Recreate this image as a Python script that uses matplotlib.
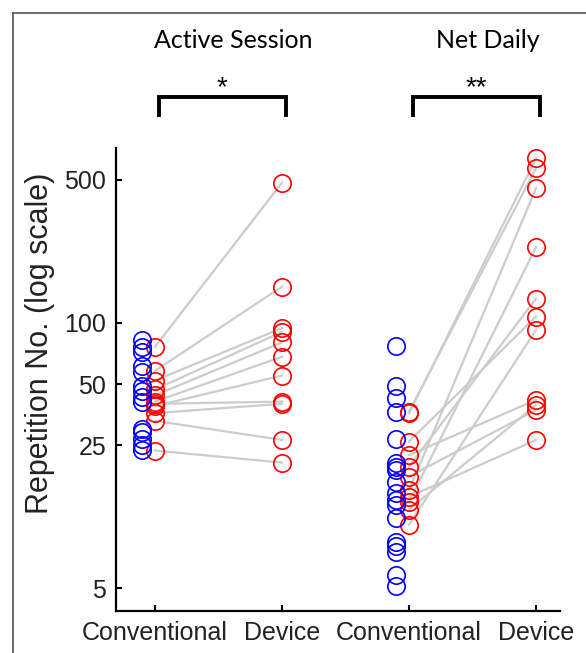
import numpy as np
import matplotlib.pyplot as plt
from matplotlib.lines import Line2D
import matplotlib.transforms as mtransforms

# values (repetitions, log scale)
active_conv_all = [82, 76, 72, 61, 57, 49, 46, 43, 41, 30, 29, 27, 25, 23.7]
active_conv_paired = [76, 58, 52, 47, 44, 41, 39, 40, 36, 33, 23.6]
active_device = [485, 150, 94, 90, 80, 68, 55, 41, 40, 26.6, 20.6]

daily_conv_all = [77, 49, 42.5, 36.6, 27, 20.4, 19.7, 18.9, 16.6, 14.6,
                  13.5, 12.8, 11.0, 8.4, 8.0, 7.5, 5.8, 5.1]
daily_conv_paired = [35.9, 36.6, 15.1, 13.2, 19.7, 26.1, 10.2, 22.4, 12.1, 17.6, 14.0]
daily_device = [638, 570, 455, 234, 131, 107, 92, 41.8, 39.4, 37.3, 26.6]

tick_labels = ['Conventional', 'Device', 'Conventional', 'Device']
group_titles = ['Active Session', 'Net Daily']
stars = ['*', '**']
yticks = [5, 25, 50, 100, 500]

W, H = 586, 653
fig = plt.figure(figsize=(W / 100, H / 100), dpi=100)
ax = fig.add_axes([116 / W, 1 - 611 / H, 444 / W, 463 / H])

groups = [(1, active_conv_all, active_conv_paired, active_device),
          (3, daily_conv_all, daily_conv_paired, daily_device)]
mk = dict(marker='o', markersize=12.5, markerfacecolor='none',
          markeredgewidth=1.2, linestyle='none')
for x0, allv, conv, dev in groups:
    for c, d in zip(conv, dev):
        ax.plot([x0, x0 + 1], [c, d], color='#cccccc', lw=1.6, zorder=1)
    ax.plot(np.full(len(allv), x0 - 0.1), allv, color='#0000ff', zorder=3, **mk)
    ax.plot(np.full(len(conv), x0), conv, color='#ff0000', zorder=2, **mk)
    ax.plot(np.full(len(dev), x0 + 1), dev, color='#ff0000', zorder=2, **mk)

ax.set_yscale('log')
ax.set_ylim(3.86, 717)
ax.set_xlim(0.693, 4.189)
ax.set_yticks(yticks)
ax.set_yticklabels([str(t) for t in yticks])
ax.yaxis.set_minor_locator(plt.NullLocator())
ax.set_xticks([1, 2, 3, 4])
ax.set_xticklabels(tick_labels)
ax.tick_params(direction='in', length=4, width=1.5, labelsize=18, pad=7,
               colors='black', labelcolor='#222222')
for lab in ax.get_xticklabels() + ax.get_yticklabels():
    lab.set_fontfamily('Liberation Sans')
for s in ['top', 'right']:
    ax.spines[s].set_visible(False)
for s in ['left', 'bottom']:
    ax.spines[s].set_linewidth(1.6)

fig.text(40 / W, 1 - 343 / H, 'Repetition No. (log scale)', rotation=90,
         ha='center', va='center', fontsize=22, family='Liberation Sans',
         color='#222222')

# group titles and significance brackets
trans = mtransforms.blended_transform_factory(ax.transData, ax.transAxes)
for i, x0 in enumerate([1, 3]):
    ax.text(x0 + 0.62, 1 + (148 - 40) / 463, group_titles[i], transform=trans,
            ha='center', va='center', fontsize=18, family='Lato')
    y_top = 1 + (148 - 97) / 463
    y_bot = 1 + (148 - 115) / 463
    ax.plot([x0 + 0.03, x0 + 0.03, x0 + 1.03, x0 + 1.03],
            [y_bot, y_top, y_top, y_bot], color='black', lw=2.8,
            transform=trans, clip_on=False, solid_joinstyle='miter')
    ax.text(x0 + 0.53, 1 + (148 - 88) / 463, stars[i], transform=trans,
            ha='center', va='center', fontsize=20, family='Liberation Sans')

# outer panel frame
fig.add_artist(Line2D([13 / W, 13 / W], [0, 1 - 13 / H], color='#555555', lw=1.2))
fig.add_artist(Line2D([13 / W, 1], [1 - 13 / H, 1 - 13 / H], color='#555555', lw=1.2))

fig.savefig('out.png', dpi=100)
